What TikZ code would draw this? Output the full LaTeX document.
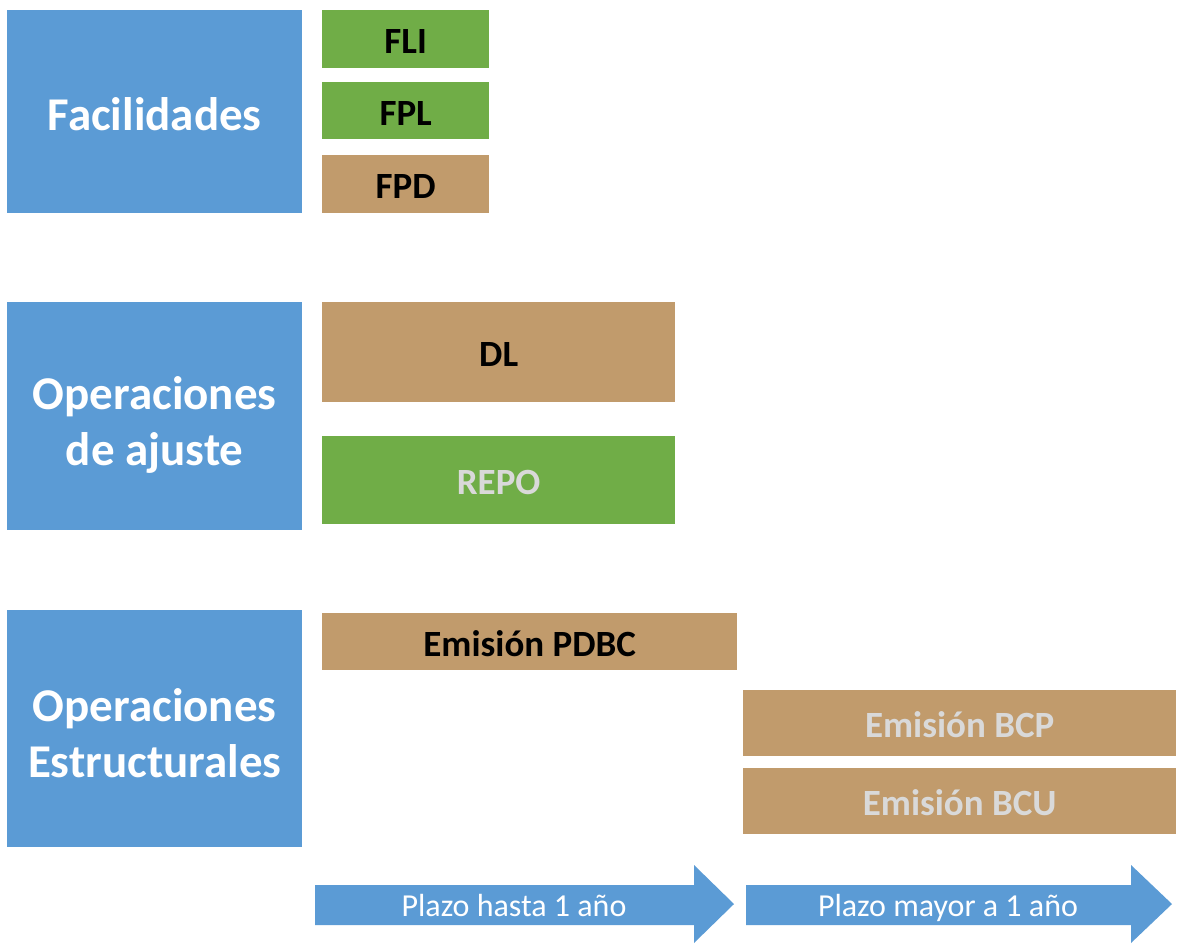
\documentclass[tikz,border=0pt]{standalone}
\usepackage{fontspec}
\setmainfont{Carlito}
\definecolor{cblue}{HTML}{5B9BD5}
\definecolor{cgreen}{HTML}{70AD47}
\definecolor{ctan}{HTML}{C19B6C}
\definecolor{cgray}{HTML}{D9D9D9}
\tikzset{
  box/.style={anchor=north west, inner sep=0pt, align=center, font=\bfseries},
  cat/.style={box, fill=cblue, text=white, font=\fontsize{47}{56}\selectfont\bfseries},
  small/.style={box, text height=29pt, text depth=0pt, font=\fontsize{37}{42}\selectfont\bfseries},
  greenbox/.style={small, fill=cgreen},
  tanbox/.style={small, fill=ctan},
  arrowlabel/.style={text=white, inner sep=0pt, anchor=base, font=\fontsize{32}{36}\selectfont},
}
\begin{document}
\begin{tikzpicture}[x=1pt,y=-1pt]
\useasboundingbox (0,0) rectangle (1178,943);
% categories
\node[cat, minimum width=295pt, minimum height=203pt, text height=37pt, text depth=0pt] (fac) at (7,10) {Facilidades};
\node[cat, minimum width=295pt, minimum height=228pt, text height=98pt, text depth=0pt] (aju) at (7,302) {Operaciones\\de ajuste};
\node[cat, minimum width=295pt, minimum height=237pt, text height=98pt, text depth=0pt] (est) at (7,610) {Operaciones\\Estructurales};
% facilidades
\node[greenbox, minimum width=167pt, minimum height=58pt] (fli) at (322,10) {FLI};
\node[greenbox, minimum width=167pt, minimum height=57pt] (fpl) at (322,82) {FPL};
\node[tanbox, minimum width=167pt, minimum height=58pt] (fpd) at (322,155) {FPD};
% ajuste
\node[tanbox, minimum width=353pt, minimum height=100pt] (dl) at (322,302) {DL};
\node[greenbox, minimum width=353pt, minimum height=88pt, text=cgray] (repo) at (322,436) {REPO};
% estructurales
\node[tanbox, minimum width=415pt, minimum height=57pt] (pdbc) at (322,613) {Emisión PDBC};
\node[tanbox, minimum width=433pt, minimum height=66pt, text=cgray] (bcp) at (743,690) {Emisión BCP};
\node[tanbox, minimum width=433pt, minimum height=66pt, text=cgray] (bcu) at (743,768) {Emisión BCU};
% arrows
\fill[cblue] (315,885) -- (694,885) -- (694,865) -- (734,904) -- (694,943) -- (694,925) -- (315,925) -- cycle;
\fill[cblue] (746,885) -- (1131,885) -- (1131,865) -- (1172,904) -- (1131,943) -- (1131,925) -- (746,925) -- cycle;
\node[arrowlabel] (a1) at (514,916) {Plazo hasta 1 año};
\node[arrowlabel] (a2) at (948,916) {Plazo mayor a 1 año};
\end{tikzpicture}
\end{document}
